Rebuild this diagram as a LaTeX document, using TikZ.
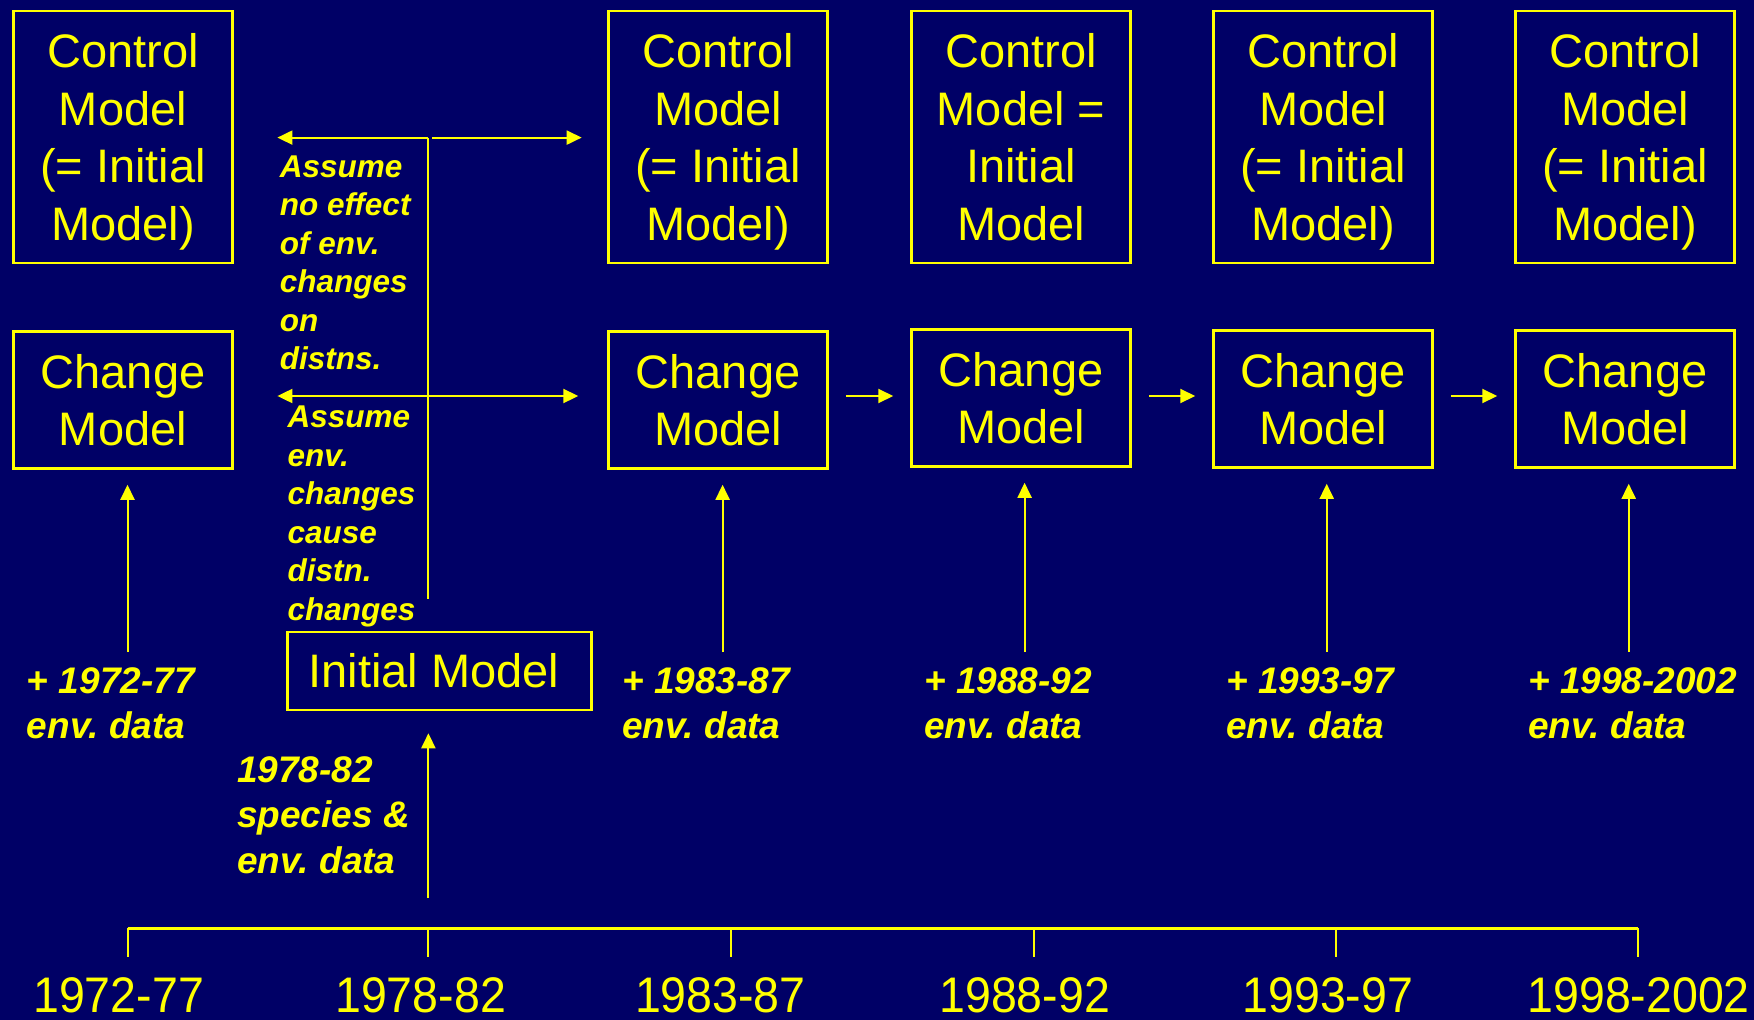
\documentclass[tikz,border=0pt]{standalone}
\usepackage{fontspec}
\usepackage{graphicx}
\setmainfont{Liberation Sans}
\usetikzlibrary{arrows.meta,calc}
\definecolor{bgnavy}{RGB}{0,0,102}
\definecolor{ylw}{RGB}{255,255,0}
\newcommand{\nodepth}[1]{\raisebox{0pt}[\height][0pt]{#1}}
\begin{document}
\frenchspacing
\begin{tikzpicture}[x=1pt,y=-1pt,
  box/.style={draw=ylw, line width=2.5pt, text=ylw, align=center, inner sep=0pt, font=\fontsize{47}{57.6}\selectfont},
  ctrlbox/.style={box, minimum width=219pt, minimum height=252pt},
  chgbox/.style={box, minimum width=219pt, minimum height=137pt},
  note/.style={text=ylw, align=left, inner sep=0pt, anchor=north west, font=\fontsize{31.5}{38.5}\selectfont\bfseries\itshape},
  datalbl/.style={text=ylw, align=left, inner sep=0pt, anchor=north west, font=\fontsize{37}{45.6}\selectfont\bfseries\itshape},
  yearlbl/.style={text=ylw, inner sep=0pt, anchor=base, font=\fontsize{50}{60}\selectfont},
  link/.style={draw=ylw, line width=2pt, -{Triangle[length=15pt,width=14pt]}},
  plainline/.style={draw=ylw, line width=2pt},
  axis/.style={draw=ylw, line width=3.5pt}]
\fill[bgnavy] (0,0) rectangle (1754,1020);
\useasboundingbox (0,0) rectangle (1754,1020);

% Control models
\node[ctrlbox] (ctrl1) at (123,137) {Control\\Model\\(= Initial\\\nodepth{Model)}};
\node[ctrlbox] (ctrl2) at (718,137) {Control\\Model\\(= Initial\\\nodepth{Model)}};
\node[ctrlbox] (ctrl3) at (1021,137) {Control\\Model =\\Initial\\Model};
\node[ctrlbox] (ctrl4) at (1323,137) {Control\\Model\\(= Initial\\\nodepth{Model)}};
\node[ctrlbox] (ctrl5) at (1625,137) {Control\\Model\\(= Initial\\\nodepth{Model)}};

% Change models
\node[chgbox] (chg1) at (123,400) {Change\\Model};
\node[chgbox] (chg2) at (718,400) {Change\\Model};
\node[chgbox] (chg3) at (1021,398) {Change\\Model};
\node[chgbox] (chg4) at (1323,399) {Change\\Model};
\node[chgbox] (chg5) at (1625,399) {Change\\Model};

% Initial model
\node[box, minimum width=304pt, minimum height=78pt] (init) at (439.6,671) {Initial Model\hspace*{11pt}};

% Annotations
\node[note] (noteA) at (279.6,155.5) {Assume\\no effect\\of env.\\changes\\on\\distns.};
\node[note] (noteB) at (287.5,406) {Assume\\env.\\changes\\cause\\distn.\\changes};
\node[datalbl] (spec) at (237,756) {1978-82\\species \&\\env. data};

% Data labels
\node[datalbl] (d1) at (26.8,667) {+ 1972-77\\env. data};
\node[datalbl] (d2) at (622,667) {+ 1983-87\\env. data};
\node[datalbl] (d3) at (924,667) {+ 1988-92\\env. data};
\node[datalbl] (d4) at (1226,667) {+ 1993-97\\env. data};
\node[datalbl] (d5) at (1528,667) {+ 1998-2002\\env. data};

% Branching arrows
\coordinate (jtop) at (428.4,137.6);
\coordinate (jmid) at (428.4,396);
\coordinate (jbot) at (428.4,598.5);
\coordinate (uL) at (277.4,137.6);
\coordinate (uR) at (581.7,137.6);
\coordinate (lL) at (277.4,396);
\coordinate (lR) at (578.3,396);
\draw[plainline] (jtop) -- (jbot);
\draw[link] (jtop) -- (uL);
\draw[link] ([xshift=4pt]jtop) -- (uR);
\draw[link] (jmid) -- (lL);
\draw[link] (jmid) -- (lR);

% Initial model input
\coordinate (src0) at (428.4,898);
\draw[link, shorten >=22pt] (src0) -- (src0 |- init.south);

% Change to change arrows
\coordinate (lvl) at (0,396);
\draw[link] ([xshift=17pt]chg2.east |- lvl) -- ([xshift=-17pt]chg3.west |- lvl);
\draw[link] ([xshift=17pt]chg3.east |- lvl) -- ([xshift=-17pt]chg4.west |- lvl);
\draw[link] ([xshift=17pt]chg4.east |- lvl) -- ([xshift=-17pt]chg5.west |- lvl);

% Data arrows
\coordinate (src1) at (127.5,652);
\coordinate (src2) at (722.6,652);
\coordinate (src3) at (1024.6,652);
\coordinate (src4) at (1326.7,652);
\coordinate (src5) at (1628.7,652);
\draw[link, shorten >=15pt] (src1) -- (src1 |- chg1.south);
\draw[link, shorten >=15pt] (src2) -- (src2 |- chg2.south);
\draw[link, shorten >=15pt] (src3) -- (src3 |- chg3.south);
\draw[link, shorten >=15pt] (src4) -- (src4 |- chg4.south);
\draw[link, shorten >=15pt] (src5) -- (src5 |- chg5.south);

% Timeline
\coordinate (t1) at (127.5,928.4);
\coordinate (t2) at (428.4,928.4);
\coordinate (t3) at (730.5,928.4);
\coordinate (t4) at (1033.6,928.4);
\coordinate (t5) at (1335.6,928.4);
\coordinate (t6) at (1637.6,928.4);
\draw[axis] (t1) -- (t6);
\foreach \t in {t1,t2,t3,t4,t5,t6} {
  \draw[plainline] (\t) -- ++(0,29);
}
\node[yearlbl] (y1) at (118.6,1012) {\scalebox{0.93}[1]{1972-77}};
\node[yearlbl] (y2) at (420.6,1012) {\scalebox{0.93}[1]{1978-82}};
\node[yearlbl] (y3) at (720.4,1012) {\scalebox{0.93}[1]{1983-87}};
\node[yearlbl] (y4) at (1024.7,1012) {\scalebox{0.93}[1]{1988-92}};
\node[yearlbl] (y5) at (1327.8,1012) {\scalebox{0.93}[1]{1993-97}};
\node[yearlbl] (y6) at (1638.7,1012) {\scalebox{0.93}[1]{1998-2002}};
\end{tikzpicture}
\end{document}
